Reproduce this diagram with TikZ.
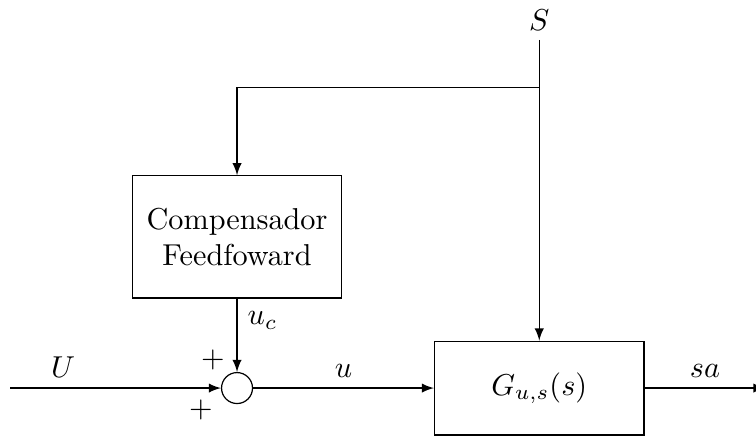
\documentclass[tikz,border=0pt]{standalone}
\usepackage{amsmath}
\usetikzlibrary{shapes,arrows,positioning,calc}

\begin{document}
\begin{tikzpicture}[auto, >=latex,
        block/.style={rectangle, draw, text width=2.2cm, text centered, minimum width=2.42cm},
        sum/.style={circle, draw, inner sep=0pt, minimum size=0.36cm}]
        \useasboundingbox (0,0) rectangle (8.79,5.105);

        \node[sum] (soma) at (2.756,0.593) {};
        \node[block, minimum height=1.42cm] (comp) at (2.756,2.35) {Compensador\\Feedfoward};
        \node[block, minimum height=1.09cm] (planta) at (6.27,0.593) {$G_{u,s}(s)$};
        \node (S) at (6.27,4.87) {$S$};

        \coordinate (entrada) at (0.12,0.593);
        \coordinate (saida) at (8.9,0.593);
        \coordinate (ramo) at (6.27,4.09);
        \coordinate (topo) at (6.27,4.64);

        \draw[->] (entrada) -- node[pos=0.25] {$U$} (soma);
        \draw[->] (soma) -- node {$u$} (planta);
        \draw[->] (planta) -- node[pos=0.5] {$sa$} (saida);
        \draw[->] (topo) -- (planta);
        \draw[->] (ramo) -| (comp);
        \draw[->] (comp) -- node[pos=0.3] {$u_c$} (soma);

        \node at ($(soma)+(-0.28,0.33)$) (maisA) {$+$};
        \node at ($(soma)+(-0.42,-0.25)$) (maisB) {$+$};
    \end{tikzpicture}
\end{document}
